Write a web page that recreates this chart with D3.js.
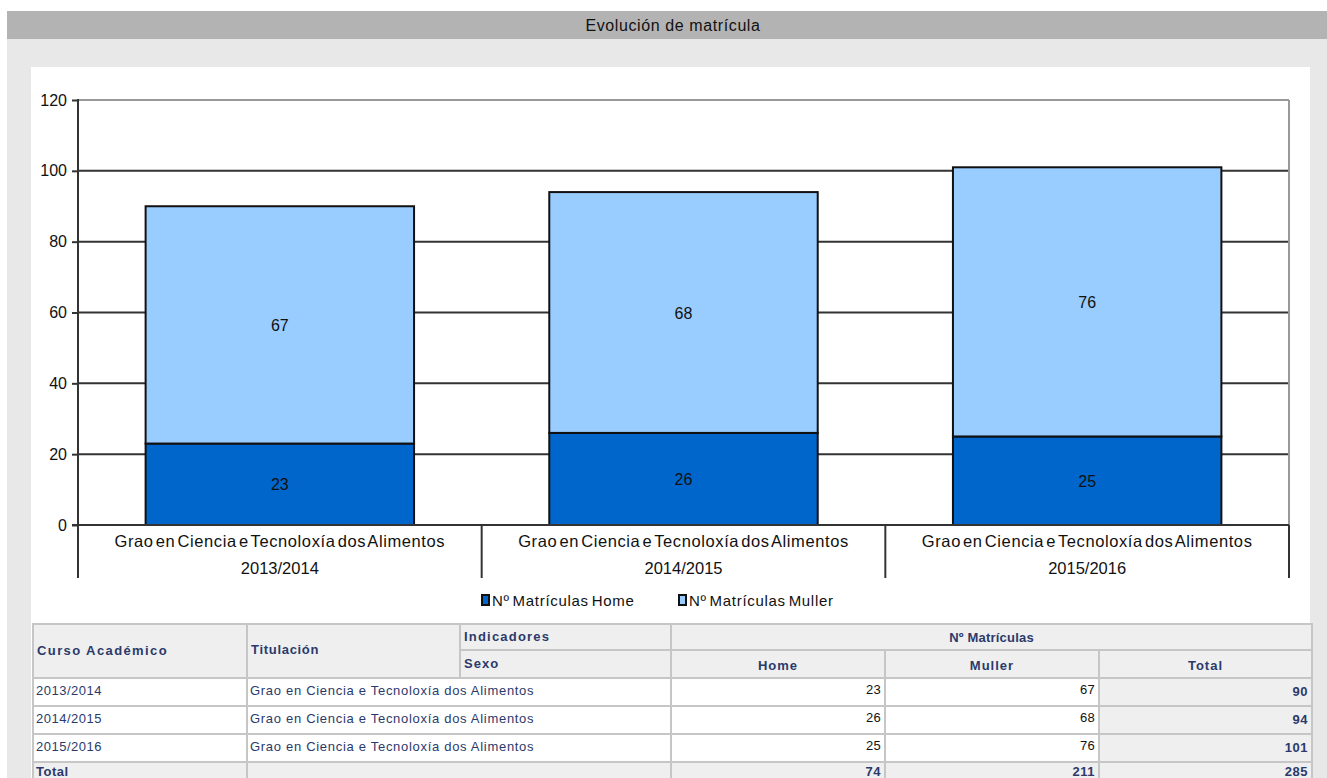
<!doctype html>
<html>
<head>
<meta charset="utf-8">
<style>
  body { margin: 0; background: #fff; }
  svg text { font-family: "Liberation Sans", Arial, sans-serif; }
</style>
<script src="https://d3js.org/d3.v7.min.js"></script>
</head>
<body>
<svg id="chart" width="1327" height="778"></svg>
<script>
// data
var years = ["2013/2014", "2014/2015", "2015/2016"];
var degree = "Grao en Ciencia e Tecnoloxía dos Alimentos";
var home = [23, 26, 25];
var muller = [67, 68, 76];
var yTicks = [0, 20, 40, 60, 80, 100, 120];
var seriesNames = ["Nº Matrículas Home", "Nº Matrículas Muller"];
var colors = ["#0066cc", "#99ccff"];

var svg = d3.select("#chart");

// page background
svg.append("rect").attr("x", 7).attr("y", 11).attr("width", 1320).attr("height", 767).attr("fill", "#e8e8e8");
svg.append("rect").attr("x", 7).attr("y", 11).attr("width", 1320).attr("height", 28).attr("fill", "#b3b3b3");
svg.append("text").attr("x", 673).attr("y", 31).attr("text-anchor", "middle")
   .attr("font-size", "16px").attr("letter-spacing", "0.6px").attr("fill", "#111").text("Evolución de matrícula");
svg.append("rect").attr("x", 31).attr("y", 67).attr("width", 1279).attr("height", 711).attr("fill", "#fff");

// scales
var pLeft = 78, pRight = 1289, pTop = 100, pBottom = 525;
var x = d3.scaleBand().domain(years).range([pLeft, pRight]).padding(0);
var y = d3.scaleLinear().domain([0, 120]).range([pBottom, pTop]);
var barW = x.bandwidth() * 0.665;

var g = svg.append("g");

// grid
g.selectAll(".grid").data(yTicks.filter(function(d) { return d > 0 && d < 120; }))
 .enter().append("line")
 .attr("x1", pLeft).attr("x2", pRight)
 .attr("y1", function(d) { return y(d); }).attr("y2", function(d) { return y(d); })
 .attr("stroke", "#333").attr("stroke-width", 2);
// top and right frame
g.append("line").attr("x1", pLeft).attr("x2", pRight).attr("y1", y(120)).attr("y2", y(120))
 .attr("stroke", "#999").attr("stroke-width", 2);
g.append("line").attr("x1", pRight).attr("x2", pRight).attr("y1", y(120)).attr("y2", pBottom)
 .attr("stroke", "#999").attr("stroke-width", 2);

// y axis
var yAxis = g.append("g").attr("transform", "translate(" + pLeft + ",0)")
 .call(d3.axisLeft(y).tickValues(yTicks).tickSize(6).tickPadding(5));
yAxis.select(".domain").remove();
yAxis.selectAll(".tick line").attr("stroke", "#333").attr("stroke-width", 2);
yAxis.selectAll(".tick text").attr("font-size", "16px").attr("fill", "#111")
 .attr("font-family", "Liberation Sans, Arial, sans-serif");
g.append("line").attr("x1", pLeft).attr("x2", pLeft).attr("y1", pTop - 1).attr("y2", 578)
 .attr("stroke", "#333").attr("stroke-width", 2);

// bars
var stacked = years.map(function(yr, i) {
  return [
    { year: yr, y0: 0, y1: home[i], v: home[i], c: colors[0] },
    { year: yr, y0: home[i], y1: home[i] + muller[i], v: muller[i], c: colors[1] }
  ];
});
var segs = [].concat.apply([], stacked);
g.selectAll(".seg").data(segs).enter().append("rect")
 .attr("x", function(d) { return x(d.year) + (x.bandwidth() - barW) / 2; })
 .attr("y", function(d) { return y(d.y1); })
 .attr("width", barW)
 .attr("height", function(d) { return y(d.y0) - y(d.y1); })
 .attr("fill", function(d) { return d.c; })
 .attr("stroke", "#111").attr("stroke-width", 2);
g.selectAll(".val").data(segs).enter().append("text")
 .attr("x", function(d) { return x(d.year) + x.bandwidth() / 2; })
 .attr("y", function(d) { return (y(d.y0) + y(d.y1)) / 2 + 6; })
 .attr("text-anchor", "middle").attr("font-size", "16px").attr("fill", "#111")
 .text(function(d) { return d.v; });

// x axis
g.append("line").attr("x1", pLeft - 6).attr("x2", pRight).attr("y1", pBottom).attr("y2", pBottom)
 .attr("stroke", "#333").attr("stroke-width", 2);
g.selectAll(".sep").data(years).enter().append("line")
 .attr("x1", function(d) { return x(d) + x.bandwidth(); })
 .attr("x2", function(d) { return x(d) + x.bandwidth(); })
 .attr("y1", pBottom).attr("y2", 578)
 .attr("stroke", "#333").attr("stroke-width", 2);
g.selectAll(".cat1").data(years).enter().append("text")
 .attr("x", function(d) { return x(d) + x.bandwidth() / 2; }).attr("y", 547)
 .attr("text-anchor", "middle").attr("font-size", "16.5px").attr("fill", "#111")
 .attr("letter-spacing", "0.6px").attr("word-spacing", "-3px")
 .text(degree);
g.selectAll(".cat2").data(years).enter().append("text")
 .attr("x", function(d) { return x(d) + x.bandwidth() / 2; }).attr("y", 574)
 .attr("text-anchor", "middle").attr("font-size", "16.5px").attr("fill", "#111")
 .text(function(d) { return d; });

// legend
var legX = [480, 677];
var leg = g.selectAll(".leg").data(seriesNames).enter().append("g")
 .attr("transform", function(d, i) { return "translate(" + legX[i] + ",594)"; });
leg.append("rect").attr("x", 2).attr("y", 1).attr("width", 7).attr("height", 10)
 .attr("fill", function(d, i) { return colors[i]; }).attr("stroke", "#111").attr("stroke-width", 2);
leg.append("text").attr("x", 12).attr("y", 12).attr("font-size", "15px").attr("fill", "#111")
 .attr("letter-spacing", "0.7px").attr("word-spacing", "-2px")
 .text(function(d) { return d; });

// table
var colX = [33, 247, 460, 671, 885, 1099, 1312];
var rowY = [624, 650, 678, 706, 734, 762, 790];
var navy = "#2b3a6b";
var hdrBg = "#efefef", border = "#c6c6c6";
var t = svg.append("g");

function cell(x0, x1, y0, y1, fill) {
  t.append("rect").attr("x", x0).attr("y", y0).attr("width", x1 - x0).attr("height", y1 - y0)
   .attr("fill", fill).attr("stroke", border).attr("stroke-width", 2);
}
function txt(xp, yp, s, anchor, bold, color, ls) {
  t.append("text").attr("x", xp).attr("y", yp).attr("text-anchor", anchor || "start")
   .attr("font-size", "13px").attr("font-weight", bold ? "bold" : "normal")
   .attr("letter-spacing", ls || 0)
   .attr("fill", color || navy).text(s);
}

// header
cell(colX[0], colX[1], rowY[0], rowY[2], hdrBg);
cell(colX[1], colX[2], rowY[0], rowY[2], hdrBg);
cell(colX[2], colX[3], rowY[0], rowY[1], hdrBg);
cell(colX[2], colX[3], rowY[1], rowY[2], hdrBg);
cell(colX[3], colX[6], rowY[0], rowY[1], hdrBg);
cell(colX[3], colX[4], rowY[1], rowY[2], hdrBg);
cell(colX[4], colX[5], rowY[1], rowY[2], hdrBg);
cell(colX[5], colX[6], rowY[1], rowY[2], hdrBg);
txt(colX[0] + 4, 655, "Curso Académico", "start", true, navy, "1.4px");
txt(colX[1] + 4, 654, "Titulación", "start", true, navy, "0.7px");
txt(colX[2] + 4, 641, "Indicadores", "start", true, navy, "1.2px");
txt(colX[2] + 4, 668, "Sexo", "start", true, navy, "1px");
txt((colX[3] + colX[6]) / 2, 642, "Nº Matrículas", "middle", true, navy, "0.2px");
txt((colX[3] + colX[4]) / 2, 670, "Home", "middle", true, navy, "1px");
txt((colX[4] + colX[5]) / 2, 670, "Muller", "middle", true, navy, "1px");
txt((colX[5] + colX[6]) / 2, 670, "Total", "middle", true, navy, "1px");

// body rows
years.forEach(function(yr, i) {
  var y0 = rowY[i + 2], y1 = rowY[i + 3];
  cell(colX[0], colX[1], y0, y1, "#fff");
  cell(colX[1], colX[3], y0, y1, "#fff");
  cell(colX[3], colX[4], y0, y1, "#fff");
  cell(colX[4], colX[5], y0, y1, "#fff");
  cell(colX[5], colX[6], y0, y1, hdrBg);
  txt(colX[0] + 3, y0 + 17, yr, "start", false, navy, "0.5px");
  txt(colX[1] + 3, y0 + 17, degree, "start", false, navy, "0.7px");
  txt(colX[4] - 4, y0 + 16, home[i], "end", false, "#111", "0.3px");
  txt(colX[5] - 4, y0 + 16, muller[i], "end", false, "#111", "0.3px");
  txt(colX[6] - 4, y0 + 18, home[i] + muller[i], "end", true, navy, "0.5px");
});

// total row
var yt0 = rowY[5], yt1 = rowY[6];
cell(colX[0], colX[1], yt0, yt1, hdrBg);
cell(colX[1], colX[3], yt0, yt1, hdrBg);
cell(colX[3], colX[4], yt0, yt1, hdrBg);
cell(colX[4], colX[5], yt0, yt1, hdrBg);
cell(colX[5], colX[6], yt0, yt1, hdrBg);
txt(colX[0] + 3, yt0 + 14, "Total", "start", true, navy, "0.5px");
txt(colX[4] - 4, yt0 + 14, d3.sum(home), "end", true, navy, "0.5px");
txt(colX[5] - 4, yt0 + 14, d3.sum(muller), "end", true, navy, "0.5px");
txt(colX[6] - 4, yt0 + 14, d3.sum(home) + d3.sum(muller), "end", true, navy, "0.5px");
</script>
</body>
</html>
